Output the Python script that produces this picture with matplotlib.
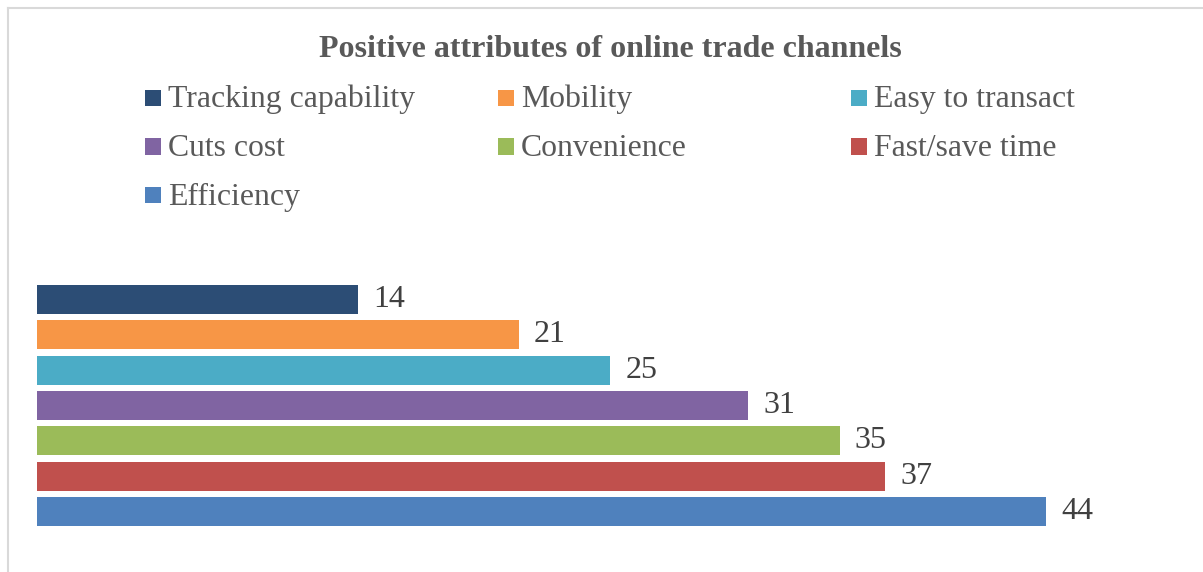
import matplotlib.pyplot as plt
from matplotlib.lines import Line2D
from matplotlib.patches import Rectangle

# data (legend order, top bar first)
categories = ['Tracking capability', 'Mobility', 'Easy to transact',
              'Cuts cost', 'Convenience', 'Fast/save time', 'Efficiency']
values = [14, 21, 25, 31, 35, 37, 44]
colors = ['#2C4D75', '#F79646', '#4BACC6', '#8064A2',
          '#9BBB59', '#C0504D', '#4F81BD']
title = 'Positive attributes of online trade channels'

W, H = 1203, 572
plt.rcParams['font.family'] = ['Liberation Serif', 'DejaVu Serif']

fig = plt.figure(figsize=(W / 100, H / 100), dpi=100)
fig.patch.set_facecolor('white')

# chart border (only top and left visible in the crop)
fig.add_artist(Line2D([8 / W, 8 / W], [0, 1 - 8 / H], transform=fig.transFigure,
                      color='#D9D9D9', lw=1.5))
fig.add_artist(Line2D([8 / W, 1], [1 - 8 / H, 1 - 8 / H], transform=fig.transFigure,
                      color='#D9D9D9', lw=1.5))

# bars
px_per_unit = (1046 - 37) / 44
ax_l, ax_r = 37, 1190
ax_top, ax_bot = 278.3, 532.7
ax = fig.add_axes([ax_l / W, 1 - ax_bot / H, (ax_r - ax_l) / W, (ax_bot - ax_top) / H])
ax.set_xlim(0, (ax_r - ax_l) / px_per_unit)
ax.set_ylim(-0.6, 6.6)
n = len(values)
ypos = [n - 1 - i for i in range(n)]
ax.barh(ypos, values, height=0.82, color=colors)
for y, v in zip(ypos, values):
    ax.annotate(str(v), (v, y), xytext=(11, 0), textcoords='offset points',
                ha='left', va='center', fontsize=23, color='#404040')
ax.axis('off')

# title
fig.text(610 / W, 1 - 57 / H, title, ha='center', va='baseline',
         fontsize=23, fontweight='bold', color='#595959')

# legend, drawn by hand to keep equal column widths like the original
col_x = [145, 498, 851]
row_y = [98, 146.5, 195]
for i, (lab, c) in enumerate(zip(categories, colors)):
    r, k = divmod(i, 3)
    x, y = col_x[k], row_y[r]
    fig.add_artist(Rectangle((x / W, 1 - (y + 8) / H), 16 / W, 16 / H,
                             transform=fig.transFigure, color=c, lw=0))
    fig.text((x + 23) / W, 1 - (y + 9.5) / H, lab, ha='left', va='baseline',
             fontsize=22.9, color='#595959')

fig.savefig('out.png', dpi=100)
